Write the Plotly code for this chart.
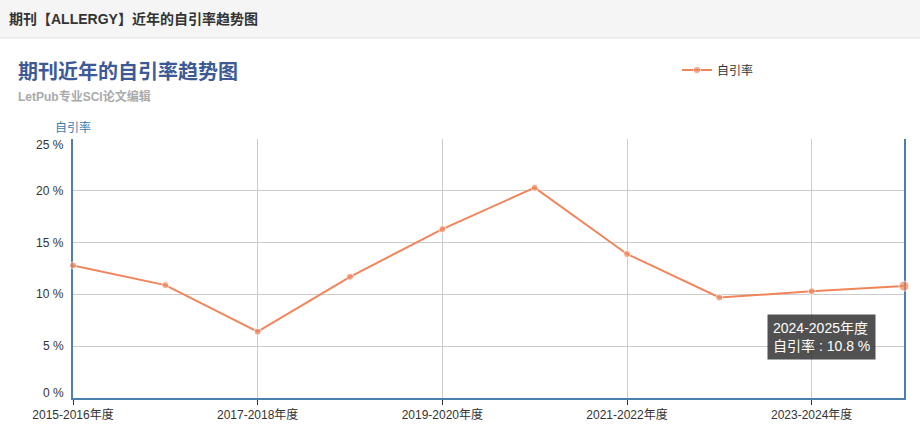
import plotly.graph_objects as go

categories = ["2015-2016年度", "2016-2017年度", "2017-2018年度", "2018-2019年度",
              "2019-2020年度", "2020-2021年度", "2021-2022年度", "2022-2023年度",
              "2023-2024年度", "2024-2025年度"]
self_cite_rate = [12.8, 10.9, 6.4, 11.7, 16.3, 20.3, 13.9, 9.7, 10.3, 10.8]
y_ticks = [0, 5, 10, 15, 20, 25]
y_tick_labels = [f"{v} %" for v in y_ticks]
x_tick_labels = categories[0::2]

series_name = "自引率"
header_text = "期刊【ALLERGY】近年的自引率趋势图"
title_text = "期刊近年的自引率趋势图"
subtitle_text = "LetPub专业SCI论文编辑"
tooltip_text = f"{categories[-1]}<br>{series_name} : {self_cite_rate[-1]} %"

W, H = 920, 433
L, R, T, B = 73, 904, 139, 398
def px(x):
    return (x - L) / (R - L)
def py(y):
    return (B - y) / (B - T)

FONT = "Liberation Sans, Arial, Noto Sans CJK SC, sans-serif"
ORANGE = "#f2845a"
AXIS = "#4a80b0"

sizes = [7] * (len(self_cite_rate) - 1) + [10]

fig = go.Figure()
fig.add_trace(go.Scatter(
    x=categories, y=self_cite_rate, name=series_name, mode="lines+markers",
    line=dict(color=ORANGE, width=2), marker=dict(color=ORANGE, size=sizes),
    cliponaxis=False,
    hovertemplate="%{x}<br>自引率 : %{y} %<extra></extra>",
))

fig.update_layout(
    width=W, height=H,
    margin=dict(l=L, r=W - R, t=T, b=H - B, autoexpand=False),
    paper_bgcolor="white", plot_bgcolor="white",
    font=dict(family=FONT, size=12, color="#333"),
    showlegend=True,
    legend=dict(x=px(677), y=py(70), xanchor="left", yanchor="middle",
                orientation="h", itemwidth=30, font=dict(size=12, color="#333"),
                bgcolor="rgba(0,0,0,0)"),
    xaxis=dict(
        type="category", range=[0, len(categories) - 1],
        tickvals=x_tick_labels, ticktext=x_tick_labels,
        showgrid=True, gridcolor="#cccccc", gridwidth=1,
        showline=True, linecolor=AXIS, linewidth=2,
        ticks="outside", ticklen=5, tickcolor="#333",
        tickfont=dict(size=12, color="#333"), zeroline=False,
        layer="below traces",
    ),
    yaxis=dict(
        range=[0, 25], tickvals=y_ticks, showticklabels=False,
        showgrid=True, gridcolor="#cccccc", gridwidth=1,
        showline=True, linecolor=AXIS, linewidth=2, mirror=True,
        ticks="", zeroline=False, layer="below traces",
    ),
    hovermode="closest",
)

# y tick labels (first/last nudged inside like the original)
for i, (v, lab) in enumerate(zip(y_ticks, y_tick_labels)):
    shift = 5 if i == 0 else (-6 if i == len(y_ticks) - 1 else 0)
    fig.add_annotation(xref="paper", yref="y", x=px(66), y=v, yshift=shift,
                       xanchor="right", yanchor="middle", showarrow=False,
                       text=lab, font=dict(size=12, color="#333"))

# header bar
fig.add_shape(type="rect", xref="paper", yref="paper",
              x0=px(0), x1=px(W), y0=py(38), y1=py(0),
              fillcolor="#f5f5f5", line=dict(width=0), layer="below")
fig.add_shape(type="line", xref="paper", yref="paper",
              x0=px(0), x1=px(W), y0=py(38), y1=py(38),
              line=dict(color="#e3e3e3", width=1))

annots = [
    dict(text=f"<b>{header_text}</b>", x=px(7), y=py(19),
         font=dict(size=14, color="#333")),
    dict(text=f"<b>{title_text}</b>", x=px(16), y=py(72),
         font=dict(size=20, color="#3d5a96")),
    dict(text=f"<b>{subtitle_text}</b>", x=px(16), y=py(96),
         font=dict(size=12, color="#aaaaaa")),
    dict(text=series_name, x=px(53), y=py(127),
         font=dict(size=12, color="#3a7cb0")),
]
for a in annots:
    fig.add_annotation(xref="paper", yref="paper", xanchor="left", yanchor="middle",
                       showarrow=False, **a)

fig.add_annotation(xref="paper", yref="paper", x=px(821), y=py(336.5),
                   xanchor="center", yanchor="middle", showarrow=False,
                   text=tooltip_text, align="left",
                   font=dict(size=14, color="white", family=FONT),
                   bgcolor="rgba(50,50,50,0.85)", borderpad=5)

fig.write_html("out.html", config={"displayModeBar": False},
               post_script="document.body.style.margin='0px';")
